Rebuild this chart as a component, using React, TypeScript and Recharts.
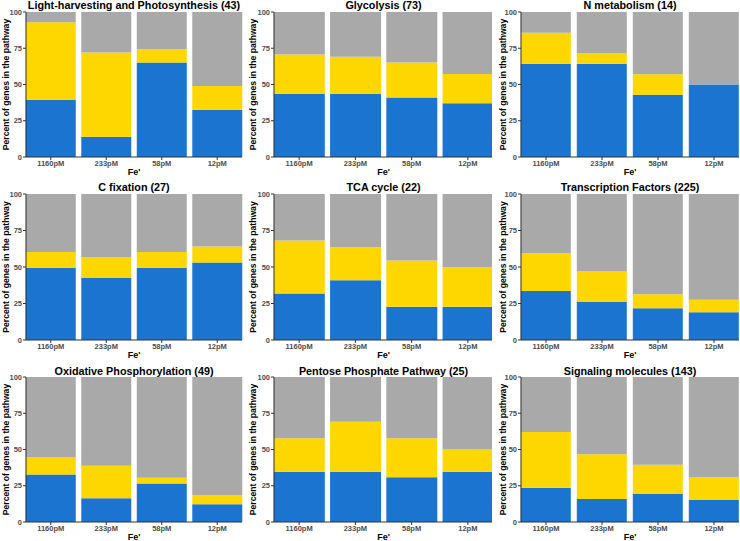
import { Bar, BarChart, XAxis, YAxis } from 'recharts'

const categories = ['1160pM', '233pM', '58pM', '12pM']
const yTicks = [0, 25, 50, 75, 100]

const lightBlue = [39.5, 14.0, 65.1, 32.6]
const lightYellow = [53.5, 58.1, 9.3, 16.3]
const lightGrey = [7.0, 27.9, 25.6, 51.1]

const glyBlue = [43.6, 43.6, 41.0, 37.0]
const glyYellow = [27.1, 25.6, 24.2, 20.3]
const glyGrey = [29.3, 30.8, 34.8, 42.7]

const nBlue = [64.3, 64.3, 42.9, 50.0]
const nYellow = [21.4, 7.1, 14.2, 0]
const nGrey = [14.3, 28.6, 42.9, 50.0]

const cBlue = [49.5, 42.4, 49.5, 53.0]
const cYellow = [10.8, 14.3, 10.8, 11.0]
const cGrey = [39.7, 43.3, 39.7, 36.0]

const tcaBlue = [31.8, 40.9, 22.7, 22.7]
const tcaYellow = [36.4, 22.7, 31.8, 27.3]
const tcaGrey = [31.8, 36.4, 45.5, 50.0]

const tfBlue = [33.5, 26.0, 21.8, 19.0]
const tfYellow = [26.1, 21.2, 9.6, 8.5]
const tfGrey = [40.4, 52.8, 68.6, 72.5]

const oxBlue = [32.7, 16.3, 26.5, 12.2]
const oxYellow = [12.2, 22.5, 4.1, 6.2]
const oxGrey = [55.1, 61.2, 69.4, 81.6]

const ppBlue = [34.6, 34.6, 30.8, 34.6]
const ppYellow = [23.1, 34.6, 26.9, 15.4]
const ppGrey = [42.3, 30.8, 42.3, 50.0]

const sigBlue = [23.7, 15.9, 19.3, 15.2]
const sigYellow = [38.4, 30.8, 20.2, 15.8]
const sigGrey = [37.9, 53.3, 60.5, 69.0]

const panels = [
  { title: 'Light-harvesting and Photosynthesis (43)', blue: lightBlue, yellow: lightYellow, grey: lightGrey },
  { title: 'Glycolysis (73)', blue: glyBlue, yellow: glyYellow, grey: glyGrey },
  { title: 'N metabolism (14)', blue: nBlue, yellow: nYellow, grey: nGrey },
  { title: 'C fixation (27)', blue: cBlue, yellow: cYellow, grey: cGrey },
  { title: 'TCA cycle (22)', blue: tcaBlue, yellow: tcaYellow, grey: tcaGrey },
  { title: 'Transcription Factors (225)', blue: tfBlue, yellow: tfYellow, grey: tfGrey },
  { title: 'Oxidative Phosphorylation (49)', blue: oxBlue, yellow: oxYellow, grey: oxGrey },
  { title: 'Pentose Phosphate Pathway (25)', blue: ppBlue, yellow: ppYellow, grey: ppGrey },
  { title: 'Signaling molecules (143)', blue: sigBlue, yellow: sigYellow, grey: sigGrey },
]

// panel grid geometry (page pixels)
const cols = [
  { x0: 0, w: 245, plotL: 26, plotR: 242, labelOff: 5.5 },
  { x0: 245, w: 247, plotL: 274, plotR: 493, labelOff: 8 },
  { x0: 492, w: 248, plotL: 521, plotR: 739, labelOff: 10.5 },
]
const rows = [
  { y0: 0, h: 182, plotT: 12, plotB: 157, titleY: 5 },
  { y0: 178, h: 184, plotT: 194, plotB: 340, titleY: 187 },
  { y0: 360, h: 181, plotT: 377, plotB: 522, titleY: 371 },
]

const font = '"Liberation Sans", Arial, sans-serif'
const xAxisH = 18

function Panel({ idx }: { idx: number }) {
  const p = panels[idx]
  const c = cols[idx % 3]
  const r = rows[Math.floor(idx / 3)]
  const data = categories.map((fe, i) => ({ fe, blue: p.blue[i], yellow: p.yellow[i], grey: p.grey[i] }))
  const margin = {
    top: r.plotT - r.y0,
    bottom: r.y0 + r.h - r.plotB - xAxisH,
    left: 0,
    right: c.x0 + c.w - c.plotR,
  }
  return (
    <>
      <div
        style={{
          position: 'absolute',
          left: c.plotL - 20,
          width: c.plotR - c.plotL + 40,
          top: r.titleY - 6.5,
          lineHeight: '13px',
          textAlign: 'center',
          fontFamily: font,
          fontWeight: 'bold',
          fontSize: 10.8,
          color: '#000',
          whiteSpace: 'nowrap',
        }}
      >
        {p.title}
      </div>
      <div style={{ position: 'absolute', left: c.x0, top: r.y0 }}>
        <BarChart width={c.w} height={r.h} data={data} margin={margin} barCategoryGap="5%">
          <XAxis
            dataKey="fe"
            interval={0}
            height={xAxisH}
            padding={{ left: -3, right: -3 }}
            tickSize={3}
            tickMargin={1}
            axisLine={{ stroke: '#333' }}
            tickLine={{ stroke: '#333' }}
            tick={{ fontSize: 7.5, fill: '#4d4d4d', fontWeight: 'bold', fontFamily: font }}
            label={{ value: "Fe'", position: 'insideBottom', offset: 0, fontSize: 9, fontWeight: 'bold', fill: '#000', fontFamily: font }}
          />
          <YAxis
            type="number"
            domain={[0, 100]}
            ticks={yTicks}
            width={c.plotL - c.x0}
            tickSize={3}
            tickMargin={1}
            axisLine={{ stroke: '#333' }}
            tickLine={{ stroke: '#333' }}
            tick={{ fontSize: 7.5, fill: '#4d4d4d', fontWeight: 'bold', fontFamily: font }}
            label={{
              value: 'Percent of genes in the pathway',
              angle: -90,
              position: 'insideLeft',
              offset: c.labelOff,
              fontSize: 8.6,
              fontWeight: 'bold',
              fill: '#000',
              fontFamily: font,
              style: { textAnchor: 'middle' },
            }}
          />
          <Bar dataKey="blue" stackId="a" fill="#1B75D0" isAnimationActive={false} />
          <Bar dataKey="yellow" stackId="a" fill="#FFD700" isAnimationActive={false} />
          <Bar dataKey="grey" stackId="a" fill="#A9A9A9" isAnimationActive={false} />
        </BarChart>
      </div>
    </>
  )
}

export default function App() {
  return (
    <div style={{ position: 'absolute', left: 0, top: 0, width: 740, height: 541, background: '#fff', overflow: 'hidden' }}>
      {panels.map((_, i) => (
        <Panel key={i} idx={i} />
      ))}
    </div>
  )
}
